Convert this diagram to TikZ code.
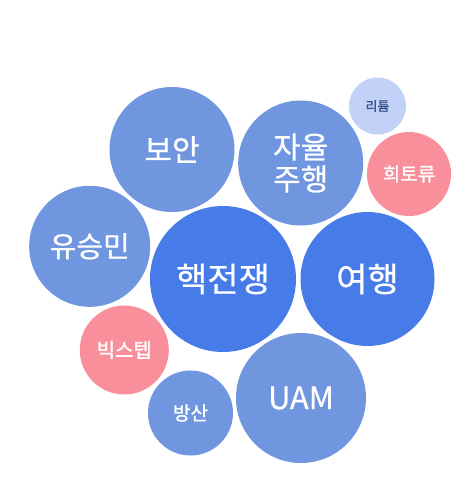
\documentclass[tikz,border=0pt]{standalone}
\usepackage{fontspec}
\setmainfont{Noto Sans CJK KR}[FakeBold=0.5]
\newfontfamily\medfont{Noto Sans CJK KR}[FakeBold=1.3]
\usepackage{tikz}
\usetikzlibrary{positioning}
\usepackage{xcolor}
\definecolor{bubbleDark}{HTML}{477BE8}
\definecolor{bubbleMid}{HTML}{7096E0}
\definecolor{bubblePink}{HTML}{F98F9A}
\definecolor{bubbleLight}{HTML}{C2D1F7}
\definecolor{textLight}{HTML}{34508F}

\tikzset{
    bubble/.style={circle, inner sep=0pt, text=white, align=center},
}

\begin{document}
\begin{tikzpicture}[x=1pt, y=-1pt]
    \useasboundingbox (0,0) rectangle (467,483);

    % Draw the two big dark bubbles
        \node[bubble, fill=bubbleDark, minimum size=146pt, font=\fontsize{34}{36}\selectfont] (nuke) at (223,279) {핵전쟁};
        \node[bubble, fill=bubbleDark, minimum size=134pt, font=\fontsize{34}{36}\selectfont] (travel) at (367.5,279) {여행};

        % Draw the middle blue bubbles
        \node[bubble, fill=bubbleMid, minimum size=125pt, font=\fontsize{30}{32}\selectfont] (security) at (172,149.5) {보안};
        \node[bubble, fill=bubbleMid, minimum size=125pt, font=\fontsize{30}{32}\selectfont] (selfdrive) at (300.7,163) {자율\\주행};
        \node[bubble, fill=bubbleMid, minimum size=121pt, font=\fontsize{29}{31}\selectfont] (yoo) at (89.7,246.3) {유승민};
        \node[bubble, fill=bubbleMid, minimum size=130pt, font=\fontsize{31}{33}\selectfont] (uam) at (301,398) {UAM};
        \node[bubble, fill=bubbleMid, minimum size=85pt, font=\medfont\fontsize{19}{21}\selectfont] (defense) at (190.5,413) {방산};

        % Draw the pink bubbles
        \node[bubble, fill=bubblePink, minimum size=89pt, font=\medfont\fontsize{20}{22}\selectfont] (bigstep) at (124.3,350) {빅스텝};
        \node[bubble, fill=bubblePink, minimum size=84pt, font=\medfont\fontsize{19}{21}\selectfont] (rareearth) at (409,174) {희토류};

        % Draw the small light bubble
        \node[bubble, fill=bubbleLight, text=textLight, minimum size=57pt, font=\medfont\fontsize{13}{15}\selectfont] (lithium) at (377.5,106) {리튬};
\end{tikzpicture}
\end{document}
